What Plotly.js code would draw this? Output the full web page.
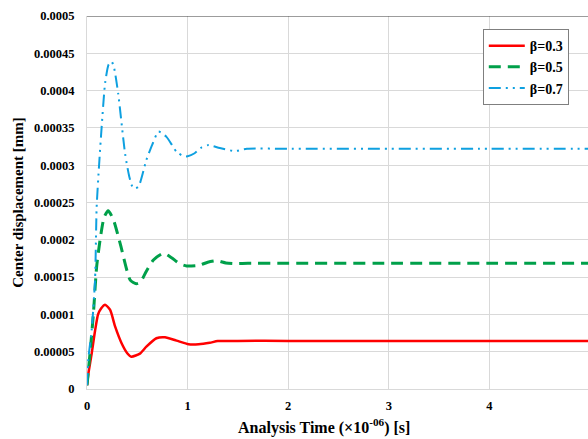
<!DOCTYPE html>
<html>
<head>
<meta charset="utf-8">
<script src="https://cdn.plot.ly/plotly-3.0.1.min.js"></script>
<style>
  html, body { margin: 0; padding: 0; background: #fff; }
  #chart { width: 588px; height: 439px; }
</style>
</head>
<body>
<div id="chart"></div>
<script>
// Center displacement response for three beta values (time in 1e-6 s, displacement in mm)
const seriesNames = ["β=0.3", "β=0.5", "β=0.7"];

const timeB03 = [0, 0.013, 0.047, 0.08, 0.11, 0.14, 0.18, 0.23, 0.28, 0.345, 0.40, 0.44, 0.53, 0.59, 0.69, 0.775, 0.89, 1.01, 1.11, 1.22, 1.3, 1.5, 2, 3, 4, 5];
const dispB03 = [0.000005, 0.00002, 0.000048, 0.000078, 0.0001, 0.000108, 0.000113, 0.000106, 0.0000835, 0.000061, 0.000048, 0.0000433, 0.0000478, 0.0000567, 0.000068, 0.0000693, 0.0000648, 0.00006, 0.00006, 0.000062, 0.0000642, 0.0000645, 0.0000645, 0.0000645, 0.0000645, 0.0000645];

const timeB05 = [0, 0.03, 0.063, 0.096, 0.13, 0.17, 0.21, 0.26, 0.33, 0.43, 0.49, 0.53, 0.59, 0.66, 0.76, 0.84, 0.92, 0.99, 1.12, 1.2, 1.29, 1.38, 1.47, 1.6, 2, 3, 4, 5];
const dispB05 = [0.000005, 0.000048, 0.0001, 0.000164, 0.0002, 0.00023, 0.000239, 0.000228, 0.000195, 0.000146, 0.000141, 0.000143, 0.000158, 0.000173, 0.000182, 0.000176, 0.000168, 0.000165, 0.000166, 0.00017, 0.000172, 0.000169, 0.000168, 0.0001685, 0.0001685, 0.0001685, 0.0001685, 0.0001685];

const timeB07 = [0, 0.013, 0.047, 0.08, 0.096, 0.12, 0.146, 0.18, 0.215, 0.245, 0.27, 0.31, 0.378, 0.42, 0.46, 0.51, 0.59, 0.65, 0.71, 0.79, 0.89, 0.96, 1.0, 1.07, 1.14, 1.21, 1.32, 1.47, 1.59, 2, 3, 4, 5];
const dispB07 = [0.000005, 0.00004, 0.00008, 0.000146, 0.000244, 0.0003, 0.000352, 0.00041, 0.000435, 0.000439, 0.00043, 0.000396, 0.000316, 0.000285, 0.000269, 0.000271, 0.000307, 0.000328, 0.000345, 0.000338, 0.000318, 0.000312, 0.000312, 0.000316, 0.000324, 0.000327, 0.000323, 0.000319, 0.000322, 0.000322, 0.000322, 0.000322, 0.000322];

const xTickVals = [0, 1, 2, 3, 4];
const yTickVals = [0, 0.00005, 0.0001, 0.00015, 0.0002, 0.00025, 0.0003, 0.00035, 0.0004, 0.00045, 0.0005];
const yTickText = ["0", "0.00005", "0.0001", "0.00015", "0.0002", "0.00025", "0.0003", "0.00035", "0.0004", "0.00045", "0.0005"];

const serif = "Liberation Serif, Times New Roman, serif";

const traces = [
  { x: timeB03, y: dispB03, name: seriesNames[0], mode: "lines",
    line: { color: "#ff0000", width: 2.5, shape: "spline", smoothing: 0.6 } },
  { x: timeB05, y: dispB05, name: seriesNames[1], mode: "lines",
    line: { color: "#00a04a", width: 3, dash: "12px,7px", shape: "spline", smoothing: 0.6 } },
  { x: timeB07, y: dispB07, name: seriesNames[2], mode: "lines",
    line: { color: "#0ea0e0", width: 2, dash: "12px,5px,2px,5px,2px,5px", shape: "spline", smoothing: 0.6 } }
];

const layout = {
  width: 588, height: 439,
  margin: { l: 87, r: 0, t: 16, b: 50 },
  paper_bgcolor: "#fff", plot_bgcolor: "#fff",
  font: { family: serif, color: "#000" },
  showlegend: true,
  legend: {
    x: 0.79, y: 0.965, xanchor: "left", yanchor: "top",
    bgcolor: "#fff", bordercolor: "#7f7f7f", borderwidth: 1,
    font: { family: serif, size: 14, color: "#000", weight: "bold" },
    tracegroupgap: 0, itemwidth: 36
  },
  xaxis: {
    range: [0, 4.98], tickvals: xTickVals,
    showgrid: true, gridcolor: "#d9d9d9", gridwidth: 1,
    showline: true, linecolor: "#d9d9d9", linewidth: 1,
    zeroline: false, ticks: "outside", ticklen: 5, tickcolor: "rgba(0,0,0,0)",
    tickfont: { family: serif, size: 12.5, weight: "bold" }
  },
  yaxis: {
    range: [0, 0.0005], tickvals: yTickVals, ticktext: yTickText,
    showgrid: true, gridcolor: "#d9d9d9", gridwidth: 1,
    showline: true, linecolor: "#d9d9d9", linewidth: 1,
    zeroline: false, ticks: "outside", ticklen: 9, tickcolor: "rgba(0,0,0,0)",
    tickfont: { family: serif, size: 12.5, weight: "bold" },
    title: { text: "Center displacement [mm]", standoff: 6,
             font: { family: serif, size: 15, weight: "bold" } }
  },
  shapes: [
    { type: "line", xref: "paper", yref: "y", x0: 0, x1: 1, y0: 0.0005, y1: 0.0005,
      line: { color: "#3a3a3a", width: 1.2 } }
  ],
  annotations: [
    { text: "Analysis Time (×10<sup>-06</sup>) [s]", xref: "paper", yref: "paper",
      x: 0.473, y: -0.1, xanchor: "center", yanchor: "middle", showarrow: false,
      font: { family: serif, size: 16, weight: "bold" } }
  ]
};

Plotly.newPlot("chart", traces, layout, { displayModeBar: false, staticPlot: true });
</script>
</body>
</html>
